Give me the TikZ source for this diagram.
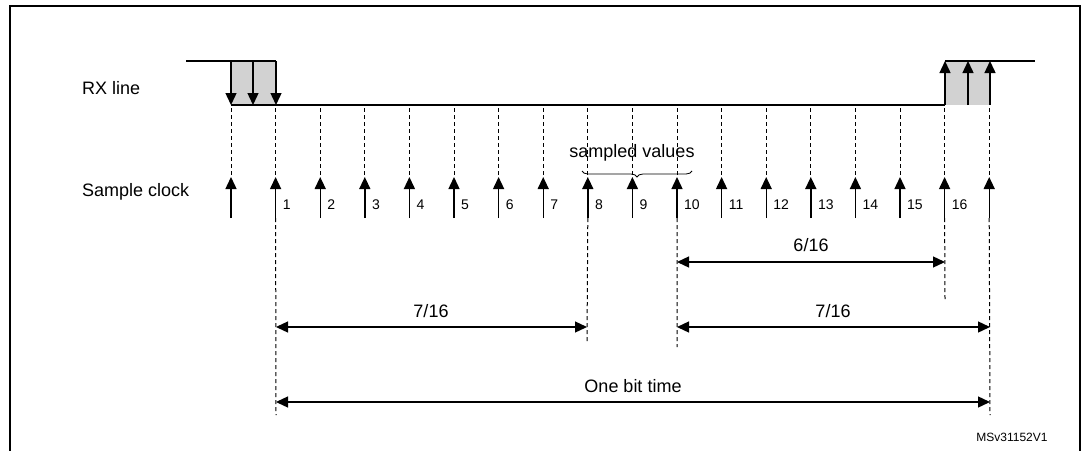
\documentclass[tikz,border=0pt]{standalone}
\usepackage{fontspec}
\setmainfont{Liberation Sans}
\usetikzlibrary{arrows.meta,decorations.pathreplacing}
\begin{document}
\begin{tikzpicture}[x=1pt,y=-1pt,
  tip/.style={-{Triangle[length=12pt,width=11pt]}},
  sig/.style={line width=1.4pt},
  dsh/.style={dash pattern=on 4pt off 3pt,line width=1pt},
  dim/.style={line width=1.3pt,{Triangle[length=12pt,width=11pt]}-{Triangle[length=12pt,width=11pt]}},
  lab/.style={font=\fontsize{18}{20}\selectfont,inner sep=0pt},
  num/.style={font=\fontsize{14}{16}\selectfont,inner sep=0pt,anchor=west}]
\useasboundingbox (0,0) rectangle (1089,450);
\begin{scope}
\clip (0,0) rectangle (1089,450);
\draw[line width=2pt] (10,470) -- (10,6) -- (1080,6) -- (1080,470);
\end{scope}
% RX line
\fill[gray!35] (231,61) rectangle (276,105);
\fill[gray!35] (945,61) rectangle (990,105);
\draw[sig] (186,61) -- (276,61);
\draw[sig] (231,105) -- (945,105);
\draw[sig] (945,61) -- (1035,61);
\foreach \x in {231,253,276} \draw[sig,tip] (\x,61) -- (\x,105);
\foreach \x in {945,968,990} \draw[sig,tip] (\x,105) -- (\x,61);
\node[lab,anchor=west] (rx) at (82,88) {RX line};
\node[lab,anchor=west] (sc) at (82,192) {Sample clock};
% clock
\foreach \i in {0,...,17} {
  \pgfmathsetmacro{\xx}{231+44.6*\i}
  \coordinate (c\i) at (\xx,177);
  \coordinate (b\i) at (\xx,218);
  \draw[dsh] (\xx,108) -- (\xx,175);
  \draw[sig,tip] (b\i) -- (c\i);
}
\foreach \i in {1,...,16} \node[num] (n\i) at ([xshift=7pt,yshift=-28pt]c\i) {\i};
% brace
\draw[line width=0.8pt,decorate,decoration={brace,amplitude=6pt}] (692,171) -- (582,171);
\node[lab] (sv) at (632,153) {sampled values};
% extensions
\coordinate (e1) at (276,415); \coordinate (e8) at (587,342);
\coordinate (e10) at (677,347); \coordinate (e16) at (945,300);
\coordinate (e17) at (990,415);
\draw[dsh] (b1) -- (e1); \draw[dsh] (b8) -- (e8);
\draw[dsh] (b10) -- (e10); \draw[dsh] (b16) -- (e16);
\draw[dsh] (b17) -- (e17);
% dimensions
\draw[dim] (677,262) -- (945,262);
\node[lab] (d1) at (811,245) {6/16};
\draw[dim] (276,327) -- (587,327);
\node[lab] (d2) at (431,311) {7/16};
\draw[dim] (677,327) -- (990,327);
\node[lab] (d3) at (833,311) {7/16};
\draw[dim] (276,402) -- (990,402);
\node[lab] (d4) at (633,386) {One bit time};
\node[font=\fontsize{12}{14}\selectfont,inner sep=0pt] (id) at (1012,437) {MSv31152V1};
\end{tikzpicture}
\end{document}
